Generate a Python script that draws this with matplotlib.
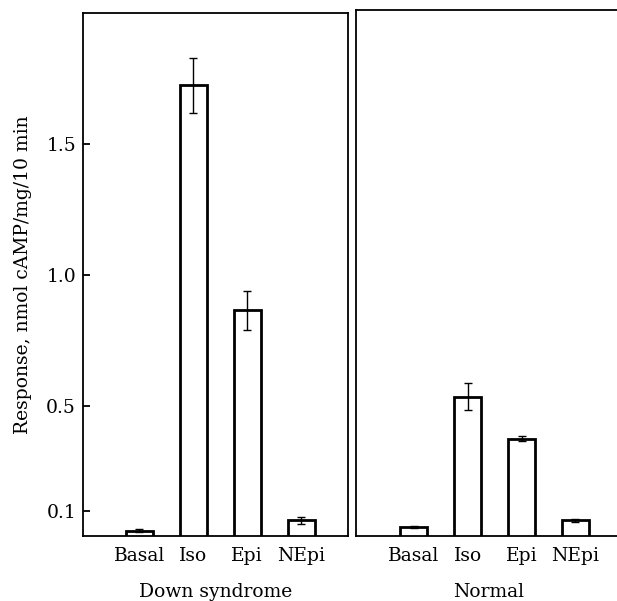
import numpy as np
import matplotlib.pyplot as plt

plt.rcParams['font.family'] = ['DejaVu Serif']

agents = ["Basal", "Iso", "Epi", "NEpi"]
down_vals = [0.025, 1.725, 0.866, 0.065]
down_err = [0.006, 0.105, 0.075, 0.012]
normal_vals = [0.040, 0.534, 0.374, 0.065]
normal_err = [0.005, 0.050, 0.009, 0.005]
groups = ["Down syndrome", "Normal"]
yticks = [0.1, 0.5, 1.0, 1.5]

fig = plt.figure(figsize=(6.17, 6.01), dpi=100)
ax1 = fig.add_axes([0.1345, 0.108, 0.4295, 0.870])
ax2 = fig.add_axes([0.577, 0.108, 0.430, 0.875])

fs = 13.5
x = np.arange(len(agents))
for ax, vals, errs, name, xl in [(ax1, down_vals, down_err, groups[0], (-1.04, 3.87)),
                                 (ax2, normal_vals, normal_err, groups[1], (-1.07, 3.85))]:
    ax.bar(x, vals, width=0.5, color="white", edgecolor="black", linewidth=2.0, zorder=2)
    ax.errorbar(x, vals, yerr=errs, fmt="none", ecolor="black", elinewidth=1.0,
                capsize=3, capthick=1.0, zorder=3)
    ax.set_xlim(*xl)
    ax.set_ylim(0.005, 2.0)
    ax.set_xticks(x)
    ax.set_xticklabels(agents, fontsize=fs)
    ax.tick_params(axis="x", length=0, pad=8)
    ax.set_xlabel(name, fontsize=fs, labelpad=13)
    for s in ax.spines.values():
        s.set_linewidth(1.3)

ax1.set_yticks(yticks)
ax1.set_yticklabels([f"{v:.1f}" for v in yticks], fontsize=fs)
ax1.tick_params(axis="y", direction="in", length=5, width=1.3, pad=5)
ax1.set_ylabel("Response, nmol cAMP/mg/10 min", fontsize=fs, labelpad=10)

ax2.set_yticks([])
ax2.spines["right"].set_visible(False)

fig.savefig("out.png", dpi=100)
